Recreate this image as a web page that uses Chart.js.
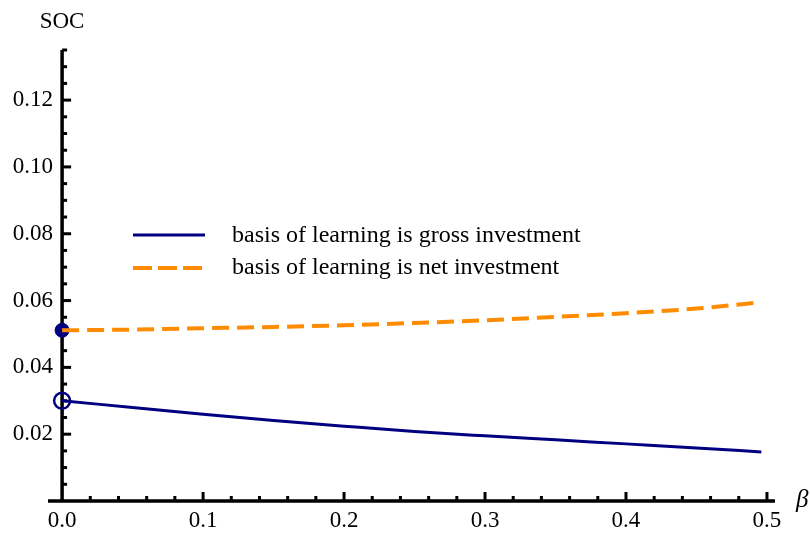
<!DOCTYPE html>
<html>
<head>
<meta charset="utf-8">
<script src="https://cdn.jsdelivr.net/npm/chart.js@4"></script>
<style>
  html, body { margin: 0; padding: 0; background: #fff; }
  #wrap { width: 810px; height: 533px; position: relative; }
</style>
</head>
<body>
<div id="wrap"><canvas id="socChart" width="810" height="533"></canvas></div>
<script>
// values
const beta = [0, 0.05, 0.1, 0.15, 0.2, 0.25, 0.3, 0.35, 0.4, 0.45, 0.496];
const socGross = [0.0300, 0.0280, 0.0260, 0.0241, 0.0224, 0.0208, 0.0195, 0.0183, 0.0171, 0.0159, 0.0147];
const socNet = [0.0511, 0.0513, 0.0517, 0.0521, 0.0526, 0.0533, 0.0541, 0.0551, 0.0562, 0.0576, 0.0595];

const xTicks = [0, 0.1, 0.2, 0.3, 0.4, 0.5];
const yTicks = [0.02, 0.04, 0.06, 0.08, 0.10, 0.12];
const xMinorStep = 0.02;
const yMinorStep = 0.005;

const seriesNames = ['basis of learning is gross investment', 'basis of learning is net investment'];
const navy = '#000080';
const orange = '#ff8c00';
const FONT = '"Liberation Serif", "Times New Roman", serif';

function pts(xs, ys) {
    return xs.map((x, i) => ({ x: x, y: ys[i] }));
}

const axesPlugin = {
    id: 'mmaAxes',
    beforeDatasetsDraw(chart) {
        const ctx = chart.ctx;
        const xs = chart.scales.x, ys = chart.scales.y;
        const x0 = xs.getPixelForValue(0);
        const y0 = ys.getPixelForValue(0);
        ctx.save();
        ctx.strokeStyle = '#000';
        ctx.lineWidth = 3.5;
        ctx.beginPath();
        ctx.moveTo(xs.left, y0);
        ctx.lineTo(xs.right, y0);
        ctx.moveTo(x0, y0);
        ctx.lineTo(x0, ys.top);
        ctx.stroke();

        // x ticks (pointing up)
        ctx.lineWidth = 3;
        for (let i = 1; i * xMinorStep <= xs.max + 1e-9; i++) {
            const v = i * xMinorStep;
            const major = xTicks.some(t => Math.abs(t - v) < 1e-9);
            const px = xs.getPixelForValue(v);
            ctx.beginPath();
            ctx.moveTo(px, y0);
            ctx.lineTo(px, y0 - (major ? 9 : 5));
            ctx.stroke();
        }
        // y ticks (pointing right)
        for (let i = 1; i * yMinorStep <= ys.max + 1e-9; i++) {
            const v = i * yMinorStep;
            const major = yTicks.some(t => Math.abs(t - v) < 1e-9);
            const py = ys.getPixelForValue(v);
            ctx.beginPath();
            ctx.moveTo(x0, py);
            ctx.lineTo(x0 + (major ? 9 : 5), py);
            ctx.stroke();
        }

        ctx.fillStyle = '#000';
        ctx.font = '23px ' + FONT;
        ctx.textAlign = 'center';
        ctx.textBaseline = 'middle';
        xTicks.forEach(t => ctx.fillText(t.toFixed(1), xs.getPixelForValue(t), 521));
        ctx.textAlign = 'right';
        yTicks.forEach(t => ctx.fillText(t.toFixed(2), 53, ys.getPixelForValue(t)));

        ctx.textAlign = 'center';
        ctx.fillText('SOC', 62, 22);
        ctx.textAlign = 'left';
        ctx.font = 'italic 25px ' + FONT;
        ctx.fillText('β', 796, 500);
        ctx.restore();
    },
    afterDraw(chart) {
        const ctx = chart.ctx;
        ctx.save();
        ctx.lineWidth = 3;
        ctx.strokeStyle = navy;
        ctx.beginPath();
        ctx.moveTo(133, 235);
        ctx.lineTo(205, 235);
        ctx.stroke();
        ctx.lineWidth = 4;
        ctx.strokeStyle = orange;
        ctx.setLineDash([19, 6]);
        ctx.beginPath();
        ctx.moveTo(133, 268);
        ctx.lineTo(205, 268);
        ctx.stroke();
        ctx.setLineDash([]);
        ctx.fillStyle = '#000';
        ctx.font = '24px ' + FONT;
        ctx.textAlign = 'left';
        ctx.textBaseline = 'middle';
        ctx.fillText(seriesNames[0], 232, 236);
        ctx.fillText(seriesNames[1], 232, 268);
        ctx.restore();
    }
};

const ctx = document.getElementById('socChart').getContext('2d');
new Chart(ctx, {
    type: 'scatter',
    data: {
        datasets: [{
            label: seriesNames[0],
            data: pts(beta, socGross),
            showLine: true,
            borderColor: navy,
            borderWidth: 3,
            pointRadius: 0,
            cubicInterpolationMode: 'monotone',
            clip: false
        }, {
            label: seriesNames[1],
            data: pts(beta, socNet),
            showLine: true,
            borderColor: orange,
            borderWidth: 4,
            borderDash: [17, 8],
            pointRadius: 0,
            cubicInterpolationMode: 'monotone',
            clip: false
        }, {
            label: 'open end',
            data: [{ x: beta[0], y: socGross[0] }],
            pointRadius: 8,
            pointBorderWidth: 2.5,
            pointBorderColor: navy,
            pointBackgroundColor: 'rgba(255,255,255,0)',
            clip: false
        }, {
            label: 'closed end',
            data: [{ x: beta[0], y: socNet[0] }],
            pointRadius: 7,
            pointBorderWidth: 1,
            pointBorderColor: navy,
            pointBackgroundColor: navy,
            clip: false
        }]
    },
    options: {
        responsive: false,
        animation: false,
        layout: { padding: { left: 48, right: 35, top: 50, bottom: 32 } },
        scales: {
            x: { type: 'linear', min: -0.01, max: 0.5057, display: false },
            y: { type: 'linear', min: 0, max: 0.135, display: false }
        },
        plugins: {
            legend: { display: false },
            tooltip: { enabled: false }
        }
    },
    plugins: [axesPlugin]
});
</script>
</body>
</html>
